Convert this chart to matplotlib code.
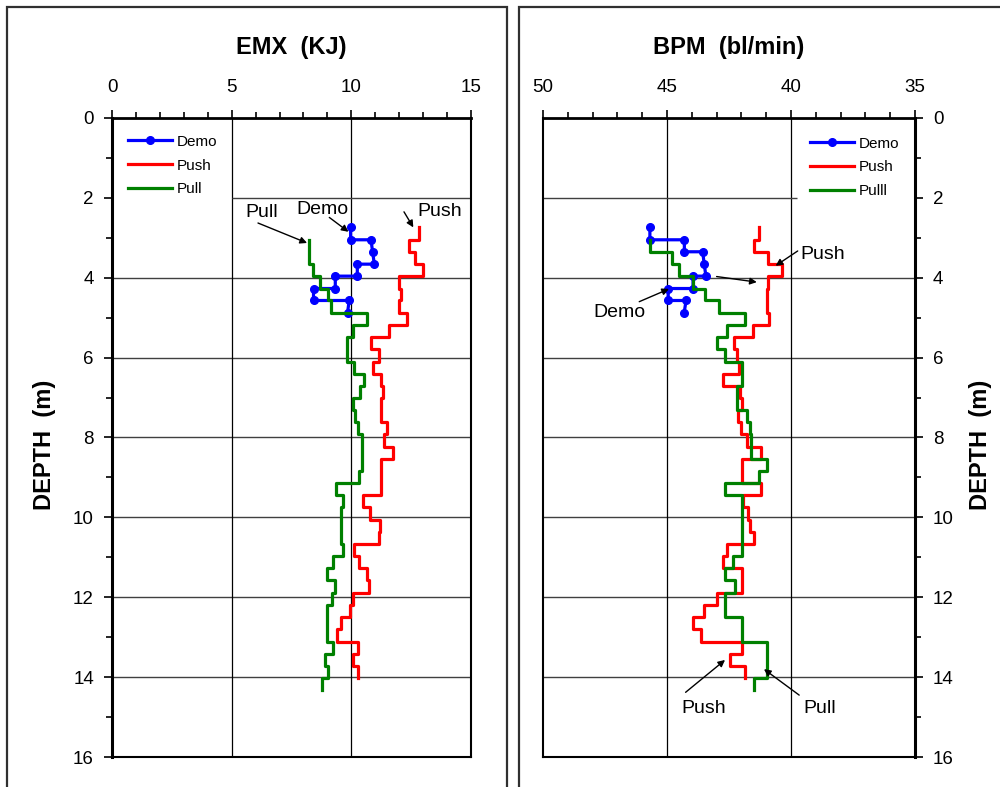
"""
Driven pile record: EMX energy and blow rate versus depth (demo / push / pull).
"""

import matplotlib
matplotlib.use("Agg")
import matplotlib.pyplot as plt
from matplotlib.patches import Rectangle
from matplotlib.ticker import MultipleLocator

plt.rcParams["font.family"] = ["Liberation Sans", "DejaVu Sans"]

# depth boundaries (m), one per foot from 9 ft to 47 ft
BOUNDS = [2.74, 3.05, 3.35, 3.66, 3.96, 4.27, 4.57, 4.88, 5.18, 5.49, 5.79,
          6.10, 6.40, 6.71, 7.01, 7.32, 7.62, 7.92, 8.23, 8.53, 8.84, 9.14,
          9.45, 9.75, 10.06, 10.36, 10.67, 10.97, 11.28, 11.58, 11.89, 12.19,
          12.50, 12.80, 13.11, 13.41, 13.72, 14.02, 14.33]
PUSH_START = 0   # push readings start at 9 ft
PULL_START = 1   # pull readings start at 10 ft

# EMX (KJ)
EMX_PUSH = [12.84, 12.43, 12.66, 12.98, 12.01, 12.08, 12.00, 12.31, 11.59,
            10.82, 11.17, 10.89, 11.24, 11.31, 11.23, 11.26, 11.51, 11.37,
            11.76, 11.23, 11.23, 11.23, 10.50, 10.78, 11.20, 11.15, 10.11,
            10.34, 10.64, 10.73, 10.08, 9.95, 9.56, 9.42, 10.29, 10.06, 10.29]
EMX_PULL = [8.25, 8.25, 8.41, 8.69, 9.04, 9.14, 10.64, 10.08, 9.81, 9.81,
            10.13, 10.53, 10.36, 10.09, 10.15, 10.29, 10.43, 10.43, 10.43,
            10.34, 9.35, 9.67, 9.56, 9.56, 9.56, 9.67, 9.22, 9.00, 9.32, 9.21,
            9.00, 9.00, 9.00, 9.22, 8.90, 9.04, 8.76]
EMX_DEMO = [9.97, 9.97, 10.82, 10.89, 10.96, 10.25, 10.25, 9.33, 9.33, 8.42,
            8.42, 9.91, 9.84]
EMX_DEMO_DEPTH = [2.74, 3.05, 3.05, 3.35, 3.66, 3.66, 3.96, 3.96, 4.27, 4.27,
                  4.57, 4.57, 4.88]

# BPM (bl/min)
BPM_PUSH = [41.28, 41.48, 40.94, 40.35, 40.94, 40.96, 40.98, 40.87, 41.52,
            42.30, 42.18, 42.10, 42.73, 42.06, 41.99, 42.12, 42.02, 41.79,
            41.22, 41.99, 41.99, 41.22, 41.92, 41.72, 41.65, 41.49, 42.60,
            42.73, 41.99, 41.99, 43.00, 43.51, 43.96, 43.64, 41.99, 42.46, 41.85]
BPM_PULL = [45.69, 44.81, 44.50, 43.94, 43.47, 42.89, 41.85, 42.59, 42.97,
            42.66, 41.99, 41.99, 42.16, 42.16, 41.79, 41.66, 41.62, 41.62,
            40.96, 41.30, 42.66, 41.99, 41.99, 41.99, 41.99, 41.99, 42.33,
            42.66, 42.26, 42.66, 42.66, 41.99, 41.99, 40.96, 40.96, 40.96, 41.49]
BPM_DEMO = [45.69, 45.69, 44.30, 44.30, 43.56, 43.50, 43.43, 43.95, 43.95,
            44.95, 44.95, 44.23, 44.31]
BPM_DEMO_DEPTH = [2.74, 3.05, 3.05, 3.35, 3.35, 3.66, 3.96, 3.96, 4.27, 4.27,
                  4.57, 4.57, 4.88]

BLUE = "#0000ff"
RED = "#ff0000"
GREEN = "#008000"
LW = 2.3


def step_path(values, start):
    """Vertical step line: one constant value per one-foot depth interval."""
    xs, ys = [], []
    for k, v in enumerate(values):
        xs += [v, v]
        ys += [BOUNDS[start + k], BOUNDS[start + k + 1]]
    return xs, ys


def arrow(ax, tail, head):
    ax.annotate("", xy=head, xytext=tail,
                arrowprops=dict(arrowstyle="-|>", color="black", lw=1.0,
                                mutation_scale=10, shrinkA=0, shrinkB=0))


def setup_axis(ax, xlim, xmajor, title, right=False):
    ax.set_xlim(*xlim)
    ax.set_ylim(16, 0)
    ax.xaxis.set_major_locator(MultipleLocator(xmajor))
    ax.xaxis.set_minor_locator(MultipleLocator(1))
    ax.yaxis.set_major_locator(MultipleLocator(2))
    ax.yaxis.set_minor_locator(MultipleLocator(1))
    ax.xaxis.tick_top()
    if right:
        ax.yaxis.tick_right()
    ax.tick_params(axis="x", which="major", direction="out", length=6,
                   width=1.2, labelsize=13.5, pad=10)
    ax.tick_params(axis="x", which="minor", direction="out", length=4, width=1.2)
    ax.tick_params(axis="y", which="major", direction="out", length=6,
                   width=1.2, labelsize=13.5, pad=7)
    ax.tick_params(axis="y", which="minor", direction="out", length=4, width=1.2)
    for side in ax.spines.values():
        side.set_linewidth(1.5)
    ax.spines["right" if right else "left"].set_linewidth(2.2)
    ax.spines["top"].set_linewidth(2.0)

    ax.text(0.5, 1.11, title, transform=ax.transAxes, ha="center",
            va="center", fontsize=17, fontweight="bold")
    ax.text(1.175 if right else -0.187, 0.488, "DEPTH  (m)",
            transform=ax.transAxes, rotation=90, ha="center", va="center",
            fontsize=17, fontweight="bold")

    for d in range(4, 16, 2):
        ax.axhline(d, color="#404040", lw=1.0, zorder=1)


fig = plt.figure(figsize=(10, 7.87), dpi=100)

# chart frames
fig.patches.append(Rectangle((0.007, -0.05), 0.500, 1.041, fill=False,
                             edgecolor="#303030", lw=1.6,
                             transform=fig.transFigure, figure=fig))
fig.patches.append(Rectangle((0.519, -0.05), 0.500, 1.041, fill=False,
                             edgecolor="#303030", lw=1.6,
                             transform=fig.transFigure, figure=fig))

ax1 = fig.add_axes([0.112, 0.0381, 0.359, 0.812])
ax2 = fig.add_axes([0.543, 0.0381, 0.372, 0.812])

# left: EMX
setup_axis(ax1, (0, 15), 5, "EMX  (KJ)")
for v in (5, 10):
    ax1.axvline(v, color="black", lw=0.9, zorder=1)
ax1.hlines(2, 5, 15, color="#404040", lw=1.0, zorder=1)

ax1.plot(EMX_DEMO, EMX_DEMO_DEPTH, color=BLUE, lw=LW, marker="o",
         markersize=5.5, label="Demo", zorder=3)
x, y = step_path(EMX_PUSH, PUSH_START)
ax1.plot(x, y, color=RED, lw=LW, label="Push", zorder=3)
x, y = step_path(EMX_PULL, PULL_START)
ax1.plot(x, y, color=GREEN, lw=LW, label="Pull", zorder=3)

ax1.legend(loc="upper left", bbox_to_anchor=(0.044, 0.974), frameon=False,
           fontsize=11, borderpad=0, borderaxespad=0, handlelength=2.9,
           handletextpad=0.3, labelspacing=0.65)

ax1.text(6.26, 2.36, "Pull", fontsize=14, ha="center", va="center")
arrow(ax1, (6.1, 2.63), (8.15, 3.13))
ax1.text(8.8, 2.28, "Demo", fontsize=14, ha="center", va="center")
arrow(ax1, (9.08, 2.49), (9.88, 2.85))
ax1.text(13.7, 2.35, "Push", fontsize=14, ha="center", va="center")
arrow(ax1, (12.2, 2.35), (12.59, 2.74))

# right: BPM
setup_axis(ax2, (50, 35), 5, "BPM  (bl/min)", right=True)
for v in (45, 40):
    ax2.axvline(v, color="black", lw=0.9, zorder=1)
ax2.hlines(2, 50, 39.75, color="#404040", lw=1.0, zorder=1)

ax2.plot(BPM_DEMO, BPM_DEMO_DEPTH, color=BLUE, lw=LW, marker="o",
         markersize=5.5, label="Demo", zorder=3)
x, y = step_path(BPM_PUSH, PUSH_START)
ax2.plot(x, y, color=RED, lw=LW, label="Push", zorder=3)
x, y = step_path(BPM_PULL, PULL_START)
ax2.plot(x, y, color=GREEN, lw=LW, label="Pulll", zorder=3)

ax2.legend(loc="upper left", bbox_to_anchor=(0.718, 0.971), frameon=False,
           fontsize=11, borderpad=0, borderaxespad=0, handlelength=2.9,
           handletextpad=0.3, labelspacing=0.65)

ax2.text(38.71, 3.42, "Push", fontsize=14, ha="center", va="center")
arrow(ax2, (39.73, 3.33), (40.62, 3.70))
arrow(ax2, (43.0, 3.97), (41.38, 4.11))
ax2.text(46.9, 4.87, "Demo", fontsize=14, ha="center", va="center")
arrow(ax2, (46.12, 4.60), (44.92, 4.28))
ax2.text(43.54, 14.79, "Push", fontsize=14, ha="center", va="center")
arrow(ax2, (44.25, 14.38), (42.66, 13.57))
ax2.text(38.86, 14.79, "Pull", fontsize=14, ha="center", va="center")
arrow(ax2, (39.67, 14.45), (41.09, 13.80))

fig.savefig("out.png", dpi=100)
